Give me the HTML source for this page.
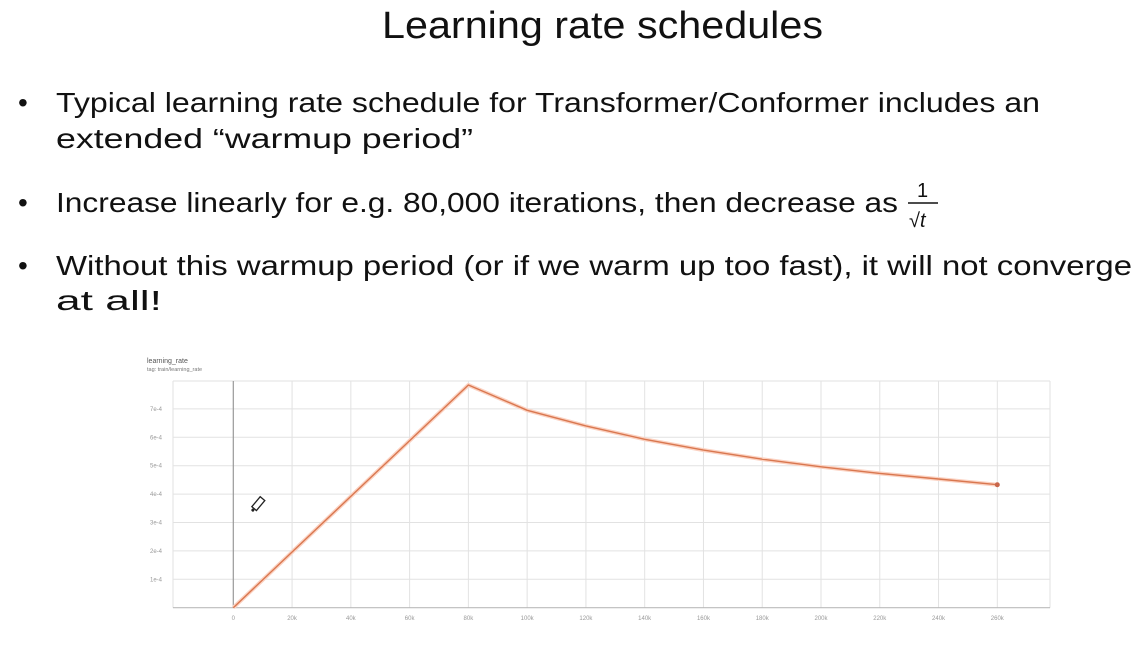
<!DOCTYPE html>
<html><head><meta charset="utf-8"><style>
html,body{margin:0;padding:0;background:#fff;}
svg{display:block;font-family:"Liberation Sans",sans-serif;}
</style></head><body>
<svg id="slide" width="1145" height="652" viewBox="0 0 1145 652">
<text x="382" y="38" font-size="38" textLength="441" lengthAdjust="spacingAndGlyphs" fill="#111">Learning rate schedules</text>
<g fill="#111" font-size="28">
<text x="18" y="112">•</text>
<text x="56" y="112" textLength="984" lengthAdjust="spacingAndGlyphs">Typical learning rate schedule for Transformer/Conformer includes an</text>
<text x="56" y="148" textLength="417" lengthAdjust="spacingAndGlyphs">extended “warmup period”</text>
<text x="18" y="212">•</text>
<text x="56" y="212" textLength="842" lengthAdjust="spacingAndGlyphs">Increase linearly for e.g. 80,000 iterations, then decrease as</text>
<text x="917" y="197" font-size="20">1</text>
<line x1="908" y1="203" x2="938" y2="203" stroke="#111" stroke-width="1.5"/>
<text x="909" y="227" font-size="20">√<tspan font-style="italic">t</tspan></text>
<text x="18" y="275">•</text>
<text x="56" y="275" textLength="1076" lengthAdjust="spacingAndGlyphs">Without this warmup period (or if we warm up too fast), it will not converge</text>
<text x="56" y="310" textLength="106" lengthAdjust="spacingAndGlyphs">at all!</text>
</g>
<text x="147" y="363" font-size="7" fill="#555">learning_rate</text>
<text x="147" y="371" font-size="5.5" fill="#777">tag: train/learning_rate</text>
<g id="grid"></g>
<g id="axes"></g>
<g id="series"></g>
<g transform="translate(258,504) rotate(40)">
<rect x="-3" y="-7" width="6" height="13" fill="#fff" stroke="#222" stroke-width="1.3"/>
<circle cx="0" cy="8" r="1.5" fill="#222"/>
</g>
</svg>
<script>
const steps = [0, 80000, 100000, 120000, 140000, 160000, 180000, 200000, 220000, 240000, 260000];
const lrValues = [0, 7.84e-4, 6.95e-4, 6.4e-4, 5.93e-4, 5.55e-4, 5.23e-4, 4.96e-4, 4.73e-4, 4.53e-4, 4.33e-4];
const xTicks = [0,20000,40000,60000,80000,100000,120000,140000,160000,180000,200000,220000,240000,260000];
const xTickLabels = ["0","20k","40k","60k","80k","100k","120k","140k","160k","180k","200k","220k","240k","260k"];
const yTicks = [1e-4,2e-4,3e-4,4e-4,5e-4,6e-4,7e-4];
const yTickLabels = ["1e-4","2e-4","3e-4","4e-4","5e-4","6e-4","7e-4"];

const NS = "http://www.w3.org/2000/svg";
const x = v => 233.3 + v * (58.77 / 20000);
const y = v => 607.7 - v * (28.4 / 1e-4);
const L = 173, R = 1050, T = 381, B = 607.7;
function mk(tag, attrs, parent) {
  const e = document.createElementNS(NS, tag);
  for (const k in attrs) e.setAttribute(k, attrs[k]);
  parent.appendChild(e);
  return e;
}
const grid = document.getElementById('grid');
const axes = document.getElementById('axes');
const series = document.getElementById('series');
mk('line', {x1:L, y1:T, x2:R, y2:T, stroke:'#e2e2e2', 'stroke-width':1}, grid);
mk('line', {x1:L, y1:T, x2:L, y2:B, stroke:'#e2e2e2', 'stroke-width':1}, grid);
mk('line', {x1:R, y1:T, x2:R, y2:B, stroke:'#e2e2e2', 'stroke-width':1}, grid);
xTicks.forEach((t, i) => {
  if (t !== 0) {
    const g = mk('line', {x1:x(t), y1:T, x2:x(t), y2:B, stroke:'#e2e2e2', 'stroke-width':1}, grid);
    
    
  }
  const tx = mk('text', {x:x(t), y:620, 'font-size':6, fill:'#999', 'text-anchor':'middle'}, axes);
  tx.textContent = xTickLabels[i];
  
  
});
yTicks.forEach((t, i) => {
  const g = mk('line', {x1:L, y1:y(t), x2:R, y2:y(t), stroke:'#e2e2e2', 'stroke-width':1}, grid);
  
  
  const tx = mk('text', {x:162, y:y(t)+2, 'font-size':6, fill:'#999', 'text-anchor':'end'}, axes);
  tx.textContent = yTickLabels[i];
  
  
});
const xAxis = mk('line', {x1:L, y1:B, x2:R, y2:B, stroke:'#bbb', 'stroke-width':1.2}, axes);


const yAxis = mk('line', {x1:x(0), y1:T, x2:x(0), y2:B, stroke:'#999', 'stroke-width':1.2}, axes);



const pts = steps.map((s, i) => x(s).toFixed(1) + ',' + y(lrValues[i]).toFixed(1)).join(' ');
const glow = mk('polyline', {points:pts, fill:'none', stroke:'#fbd2c2', 'stroke-width':4, 'stroke-linejoin':'round'}, series);


const line = mk('polyline', {points:pts, fill:'none', stroke:'#d9774f', 'stroke-width':1.4, 'stroke-linejoin':'round'}, series);


const last = steps.length - 1;
const dot = mk('circle', {cx:x(steps[last]), cy:y(lrValues[last]), r:2.5, fill:'#c8664a'}, series);


</script>
</body></html>
